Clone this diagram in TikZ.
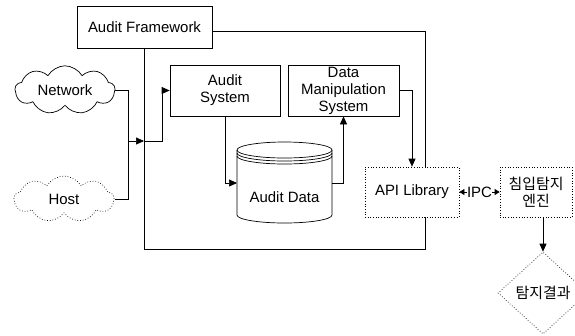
\documentclass[tikz,border=0pt]{standalone}
\usepackage{fontspec}
\setmainfont{Liberation Sans}
\newfontfamily\krfont{Noto Sans CJK KR}
\usetikzlibrary{shapes.geometric,shapes.symbols,arrows.meta}

\begin{document}
\begin{tikzpicture}[x=1bp,y=-1bp,line width=0.7bp,
		font=\fontsize{15}{17}\selectfont,
		box/.style={draw,fill=white,align=center,inner sep=0pt},
		dotbox/.style={box,dotted},
		cloudnode/.style={draw,fill=white,shape=cloud,cloud puffs=9,cloud puff arc=120,aspect=2.2,minimum width=100bp,minimum height=46bp,inner sep=0pt},
		kr/.style={font=\krfont\fontsize{15}{17}\selectfont},
		tip/.style={-{Triangle[length=8bp,width=7bp]}},
		ipc/.style={{Triangle[length=5bp,width=6bp]}-{Triangle[length=5bp,width=6bp]}}]
			\useasboundingbox (0,0) rectangle (575,335);
			% frame around the audit parts
			\coordinate (ftl) at (144,31);
			\coordinate (fbr) at (425,249);
			\draw (ftl) rectangle (fbr);
			\node[box,minimum width=135bp,minimum height=42bp] (fw) at (144.5,27) {Audit Framework};
			\node[cloudnode] (net) at (65,90) {Network};
			\node[cloudnode,dotted] (host) at (64,199) {Host};
			\node[box,minimum width=110bp,minimum height=51bp] (as) at (225,90.5) {Audit\\System};
			\node[box,minimum width=111bp,minimum height=51bp] (dm) at (343.5,90.5) {Data\\Manipulation\\System};
			\node[dotbox,minimum width=94bp,minimum height=50bp] (api) at (412,192) {API Library};
			\node[dotbox,kr,minimum width=72bp,minimum height=50bp] (eng) at (536,192) {침입탐지\\엔진};
			\node[draw,dotted,shape=diamond,kr,minimum width=90bp,minimum height=82bp,inner sep=0pt] (res) at (543,293) {탐지결과};
			% audit data cylinder
			\draw[fill=white] (237,150) -- (237,215) arc[start angle=180,end angle=0,x radius=47.5,y radius=8] -- (332,150);
			\draw[fill=white] (284.5,150) ellipse[x radius=47.5,y radius=8];
			\draw (237,153) arc[start angle=180,end angle=0,x radius=47.5,y radius=8];
			\draw (237,156) arc[start angle=180,end angle=0,x radius=47.5,y radius=8];
			\node (ad) at (284.5,197) {Audit Data};
			\coordinate (dbin) at (237,183);
			\coordinate (dbout) at (332,183);
			% connectors
			\coordinate (jn) at (128,141);
			\coordinate (jf) at (144,141);
			\coordinate (jb) at (162,141);
			\draw (net.east) -| (jn);
			\draw (host.east) -| (jn);
			\draw[tip] (jn) to (jf);
			\draw[tip] (jf) to (jb) |- (as.west);
			\draw[tip] (as.south) |- (dbin);
			\draw[tip] (dbout) -| (dm.south);
			\draw[tip] (dm.east) -| (api.north);
			\draw[ipc] (api.east) to node[fill=white,inner sep=0.5bp] (ipcl) {IPC} (eng.west);
			\draw[tip] (res.north |- eng.south) to (res.north);
		\end{tikzpicture}
\end{document}
